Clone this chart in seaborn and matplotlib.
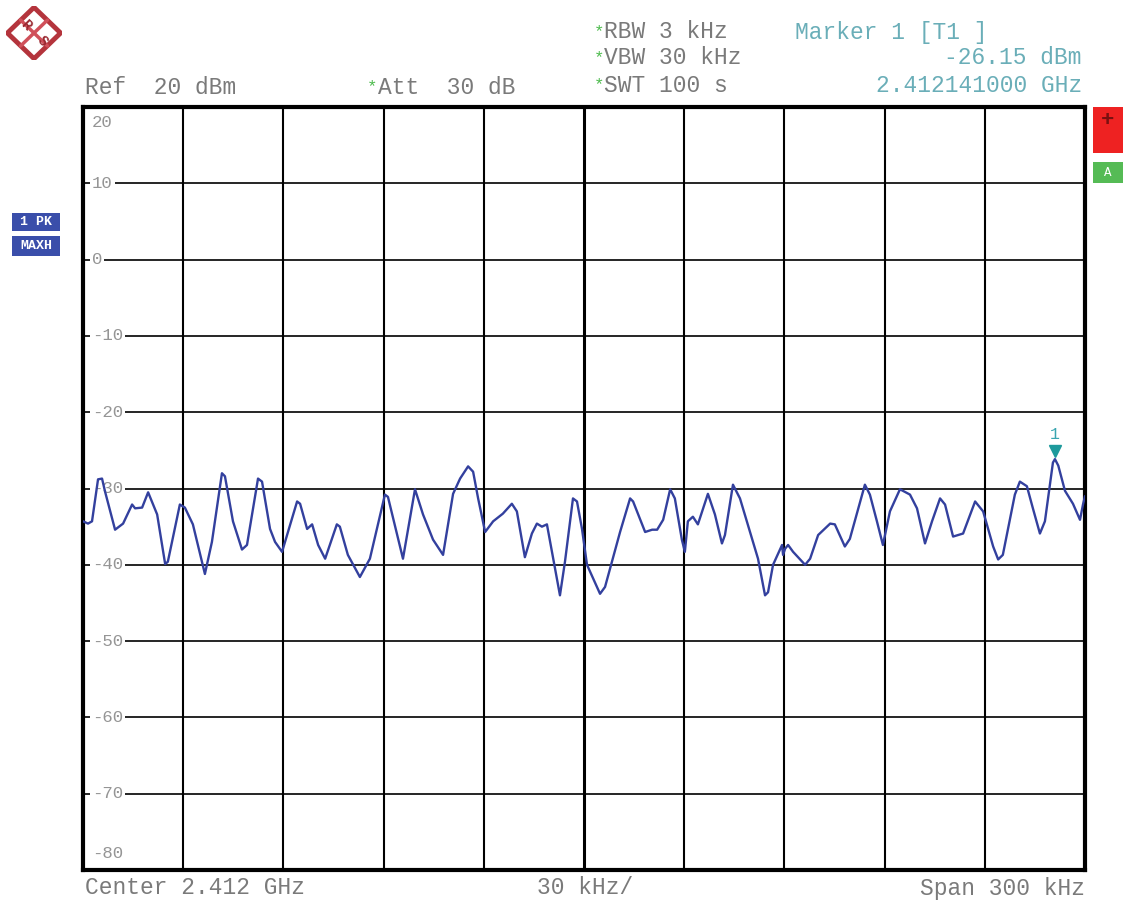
import matplotlib
matplotlib.use('Agg')
import matplotlib.pyplot as plt
import matplotlib.transforms as mtransforms
from matplotlib.patches import Polygon, Rectangle
import seaborn as sns
import pandas as pd

# trace: offset from centre (kHz) and level (dBm)
freq_khz = [-150.0, -148.5, -147.3, -145.5, -144.3, -143.4, -140.4, -138.0, -135.3, -134.4,
            -132.3, -130.5, -127.8, -125.4, -124.6, -121.9, -121.0, -119.5, -117.1, -113.5,
            -111.4, -108.4, -107.5, -105.1, -102.4, -100.9, -97.6, -96.4, -94.0, -92.5,
            -90.4, -85.9, -85.0, -82.9, -81.4, -79.6, -77.5, -74.0, -73.1, -70.7,
            -67.1, -64.1, -59.6, -58.7, -54.2, -50.6, -48.2, -45.2, -42.2, -39.2,
            -37.1, -34.7, -33.2, -31.7, -29.6, -27.2, -24.3, -21.6, -20.1, -17.7,
            -15.6, -14.1, -12.6, -11.1, -9.6, -7.2, -5.7, -3.3, -2.1, -0.6,
            0.9, 4.8, 6.3, 10.8, 13.8, 14.7, 18.3, 20.4, 21.9, 23.7,
            25.8, 27.2, 29.3, 30.2, 31.1, 32.6, 34.1, 37.1, 39.2, 41.3,
            42.2, 44.6, 46.7, 49.7, 52.1, 54.2, 55.1, 56.6, 59.3, 59.6,
            60.2, 61.1, 62.6, 66.2, 67.7, 70.1, 73.7, 75.1, 78.1, 79.6,
            84.1, 85.6, 87.7, 89.5, 91.6, 94.6, 97.6, 99.7, 102.1, 104.2,
            106.6, 108.1, 110.5, 113.5, 117.1, 119.5, 122.5, 124.0, 125.4, 129.0,
            130.5, 132.6, 134.4, 136.5, 138.0, 140.4, 141.0, 142.0, 144.0, 146.4,
            148.5, 149.4, 150.0]
level_dbm = [-34.3, -34.6, -34.3, -28.8, -28.7, -30.4, -35.4, -34.6, -32.1, -32.6,
             -32.5, -30.5, -33.4, -39.9, -39.6, -34.0, -32.1, -32.5, -34.7, -41.2,
             -37.0, -28.0, -28.4, -34.3, -38.0, -37.4, -28.7, -29.1, -35.3, -37.0,
             -38.3, -31.7, -32.0, -35.3, -34.7, -37.4, -39.2, -34.7, -35.0, -38.7,
             -41.6, -39.2, -30.8, -31.1, -39.2, -30.1, -33.4, -36.7, -38.7, -30.7,
             -28.7, -27.1, -27.8, -31.3, -35.7, -34.3, -33.3, -32.0, -33.0, -39.0,
             -35.9, -34.6, -35.0, -34.7, -38.3, -44.0, -39.6, -31.3, -31.7, -35.3,
             -40.0, -43.8, -42.9, -35.7, -31.3, -31.7, -35.7, -35.4, -35.4, -34.1,
             -30.1, -31.3, -36.7, -38.3, -34.3, -33.7, -34.7, -30.7, -33.4, -37.2,
             -36.1, -29.5, -31.3, -35.7, -39.2, -44.0, -43.6, -40.0, -37.4, -38.7,
             -37.9, -37.4, -38.3, -40.0, -39.2, -36.1, -34.6, -34.7, -37.6, -36.6,
             -29.5, -30.8, -34.3, -37.4, -33.0, -30.1, -30.8, -32.6, -37.2, -34.3,
             -31.3, -32.1, -36.3, -35.9, -31.7, -33.0, -37.6, -39.3, -38.7, -30.8,
             -29.1, -29.7, -32.6, -35.9, -34.3, -26.6, -26.15, -27.0, -30.3, -32.0,
             -34.1, -32.1, -31.0]

marker_freq = 141.0
marker_level = -26.15

ref_level = 20
db_per_div = 10
span_khz = 300
y_labels = ['10', '0', '-10', '-20', '-30', '-40', '-50', '-60', '-70']
y_label_vals = [10, 0, -10, -20, -30, -40, -50, -60, -70]

W, H = 1125, 902


def fp(x, y):
    # pixel position on the screen -> figure fraction
    return x / W, 1 - y / H


sns.set_style('white')
plt.rcParams['font.family'] = ['Liberation Mono', 'DejaVu Sans Mono']

fig = plt.figure(figsize=(W / 100, H / 100), dpi=100)
ax = fig.add_axes([83 / W, 1 - 870 / H, 1002 / W, 763 / H])

df = pd.DataFrame({'freq': freq_khz, 'level': level_dbm})
sns.lineplot(data=df, x='freq', y='level', sort=False, color='#33409e', lw=1.7,
             ax=ax, zorder=4, solid_joinstyle='round', solid_capstyle='round')

bottom = ref_level - 10 * db_per_div
ax.set_xlim(-span_khz / 2, span_khz / 2)
ax.set_ylim(bottom, ref_level)
ax.set_xticks([])
ax.set_yticks([])
ax.set_xlabel('')
ax.set_ylabel('')
for sp in ax.spines.values():
    sp.set_linewidth(3)
    sp.set_color('black')

# graticule
for v in y_label_vals:
    ax.axhline(v, color='black', lw=1.2, zorder=1)
step = span_khz / 10
for i in range(1, 10):
    xv = -span_khz / 2 + i * step
    ax.axvline(xv, color='black', lw=2.2 if i == 5 else 1.5, zorder=1)

lab_kw = dict(transform=ax.get_yaxis_transform(), color='#959595', fontsize=12.5,
              ha='left', va='center', zorder=2,
              bbox=dict(facecolor='white', edgecolor='none', pad=1.5))
for v, t in zip(y_label_vals, y_labels):
    ax.text(0.009, v, t, **lab_kw)
ax.text(0.009, ref_level - 2, str(ref_level), **lab_kw)
ax.text(0.009, bottom + 2.1, str(bottom), **lab_kw)

# marker 1
off = mtransforms.offset_copy(ax.transData, fig=fig, y=6, units='points')
ax.plot([marker_freq], [marker_level], marker='v', ms=9, color='#1d9a9c',
        transform=off, zorder=5, ls='none')
off2 = mtransforms.offset_copy(ax.transData, fig=fig, y=18, units='points')
ax.text(marker_freq, marker_level, '1', transform=off2, color='#3aa5b0',
        fontsize=12, ha='center', va='center', zorder=5)

# header / footer texts
grey = '#7a7a7a'
teal = '#6aaeb8'
green = '#4cbb4c'
fs = 16.5
fig.text(*fp(85, 87), 'Ref  20 dBm', color=grey, fontsize=fs, va='center')
fig.text(*fp(367, 87), '*', color=green, fontsize=fs - 4, va='center')
fig.text(*fp(378, 87), 'Att  30 dB', color=grey, fontsize=fs, va='center')
for yy, t in zip([32, 58, 85], ['RBW 3 kHz', 'VBW 30 kHz', 'SWT 100 s']):
    fig.text(*fp(594, yy), '*', color=green, fontsize=fs - 4, va='center')
    fig.text(*fp(604, yy), t, color=grey, fontsize=fs, va='center')
fig.text(*fp(795, 32), 'Marker 1 [T1 ]', color=teal, fontsize=fs, va='center')
fig.text(*fp(1082, 58), '-26.15 dBm', color=teal, fontsize=fs, va='center', ha='right')
fig.text(*fp(1082, 85), '2.412141000 GHz', color=teal, fontsize=fs, va='center', ha='right')

fig.text(*fp(85, 888), 'Center 2.412 GHz', color=grey, fontsize=fs, va='center')
fig.text(*fp(537, 888), '30 kHz/', color=grey, fontsize=fs, va='center')
fig.text(*fp(1085, 888), 'Span 300 kHz', color=grey, fontsize=fs, va='center', ha='right')

# trace info boxes on the left
for (ytop, ybot), t in zip([(213, 231), (236, 256)], ['1 PK', 'MAXH']):
    x0, y0 = fp(12, ybot)
    fig.patches.append(Rectangle((x0, y0), 48 / W, (ybot - ytop) / H,
                                 transform=fig.transFigure,
                                 facecolor='#3a4eaa', edgecolor='none'))
    fig.text(*fp(36, (ytop + ybot) / 2), t, color='white', fontsize=9.5,
             va='center', ha='center', fontweight='bold')

# status boxes on the right
x0, y0 = fp(1093, 153)
fig.patches.append(Rectangle((x0, y0), 30 / W, 46 / H, transform=fig.transFigure,
                             facecolor='#ee2222', edgecolor='none'))
fig.text(*fp(1108, 120), '+', color='#7a1010', fontsize=16, ha='center', va='center',
         fontweight='bold')
x0, y0 = fp(1093, 183)
fig.patches.append(Rectangle((x0, y0), 30 / W, 21 / H, transform=fig.transFigure,
                             facecolor='#55bb55', edgecolor='none'))
fig.text(*fp(1108, 173), 'A', color='white', fontsize=9, ha='center', va='center')

# logo
lax = fig.add_axes([6 / W, 1 - 60 / H, 56 / W, 54 / H])
lax.set_xlim(-1, 1)
lax.set_ylim(-1, 1)
lax.axis('off')
lax.add_patch(Polygon([[0, 0.95], [0.95, 0], [0, -0.95], [-0.95, 0]], closed=True,
                      facecolor='white', edgecolor='#b4343c', lw=3.5))
lax.plot([-0.48, 0.48], [0.48, -0.48], color='#d0505a', lw=2.5)
lax.plot([-0.48, 0.48], [-0.48, 0.48], color='#d0505a', lw=2.5)
lax.text(-0.3, 0.3, 'R', color='#9a2a32', fontsize=10, ha='center', va='center',
         rotation=-45, fontweight='bold')
lax.text(0.3, -0.3, 'S', color='#9a2a32', fontsize=10, ha='center', va='center',
         rotation=-45, fontweight='bold')

fig.savefig('out.png', dpi=100)
